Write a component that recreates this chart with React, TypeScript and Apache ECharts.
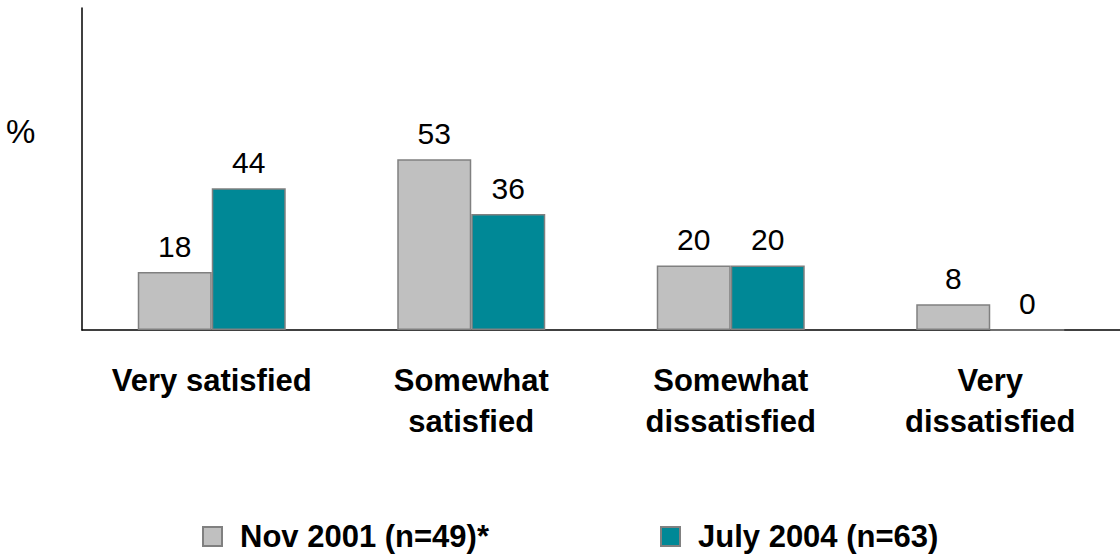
import React, { useEffect, useRef } from "react";
import * as echarts from "echarts";

const categories = ["Very satisfied", "Somewhat\nsatisfied", "Somewhat\ndissatisfied", "Very\ndissatisfied"];
const nov2001 = [18, 53, 20, 8];
const july2004 = [44, 36, 20, 0];
const seriesNames = ["Nov 2001 (n=49)*", "July 2004 (n=63)"];

const GRAY = "#C0C0C0";
const TEAL = "#008896";
const EDGE = "#808080";
const FONT = "Arial, 'Liberation Sans', sans-serif";

// Legend swatch + bold caption
function legendItem(x: number, y: number, color: string, text: string) {
  return {
    type: "group",
    x,
    y,
    children: [
      {
        type: "rect",
        shape: { x: 0, y: -9.5, width: 19, height: 19 },
        style: { fill: color, stroke: EDGE, lineWidth: 2 },
      },
      {
        type: "text",
        x: 37,
        y: 0,
        style: {
          text,
          fontSize: 31,
          fontWeight: "bold",
          fontFamily: FONT,
          fill: "#000",
          verticalAlign: "middle",
          align: "left",
        },
      },
    ],
  };
}

export default function App() {
  const ref = useRef<HTMLDivElement>(null);

  useEffect(() => {
    document.body.style.margin = "0";
    document.body.style.overflow = "hidden";
    const chart = echarts.init(ref.current!, null, { renderer: "svg" });
    const labelStyle = {
      show: true,
      position: "top" as const,
      distance: 11,
      fontSize: 30,
      fontFamily: FONT,
      color: "#000",
    };
    chart.setOption({
      animation: false,
      backgroundColor: "#fff",
      grid: { left: 82, right: 0, top: 8, bottom: 230, containLabel: false },
      xAxis: {
        type: "category",
        data: categories,
        axisLine: { show: true, lineStyle: { color: "#000", width: 1.5 } },
        axisTick: { show: false },
        axisLabel: {
          interval: 0,
          margin: 30,
          fontSize: 31,
          fontWeight: "bold",
          fontFamily: FONT,
          color: "#000",
          lineHeight: 41,
        },
      },
      yAxis: {
        type: "value",
        min: 0,
        max: 100,
        splitLine: { show: false },
        axisTick: { show: false },
        axisLabel: { show: false },
        axisLine: { show: true, lineStyle: { color: "#000", width: 1.5 } },
      },
      graphic: [
        {
          type: "text",
          left: 6,
          top: 115,
          style: { text: "%", fontSize: 33, fontFamily: FONT, fill: "#000" },
        },
        legendItem(203, 536.5, GRAY, seriesNames[0]),
        legendItem(661, 536.5, TEAL, seriesNames[1]),
      ],
      series: [
        {
          name: seriesNames[0],
          type: "bar",
          data: nov2001,
          barWidth: 74,
          barGap: "0%",
          itemStyle: { color: GRAY, borderColor: EDGE, borderWidth: 1.5 },
          label: labelStyle,
        },
        {
          name: seriesNames[1],
          type: "bar",
          data: july2004,
          barWidth: 74,
          barGap: "0%",
          itemStyle: { color: TEAL, borderColor: EDGE, borderWidth: 1.5 },
          label: labelStyle,
        },
      ],
    });
    return () => chart.dispose();
  }, []);

  return <div ref={ref} style={{ width: 1120, height: 560 }} />;
}
